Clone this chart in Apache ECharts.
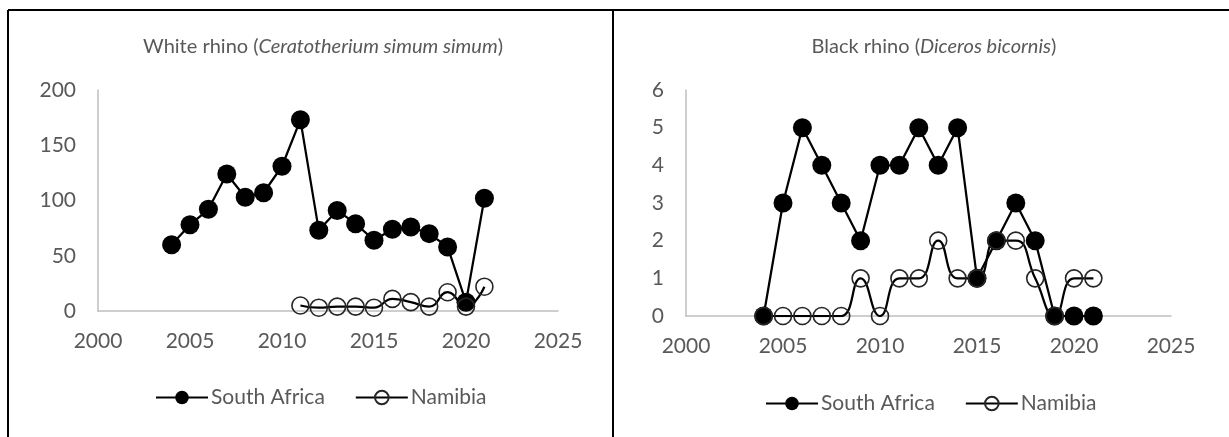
<!DOCTYPE html>
<html>
<head>
<meta charset="utf-8">
<script src="https://cdn.jsdelivr.net/npm/echarts@6/dist/echarts.min.js"></script>
<style>
html,body{margin:0;padding:0;background:#fff;}
#c{width:1229px;height:437px;}
</style>
</head>
<body>
<div id="c"></div>
<script>
// ---- Data ----
const whiteYearsSA = [2004,2005,2006,2007,2008,2009,2010,2011,2012,2013,2014,2015,2016,2017,2018,2019,2020,2021];
const whiteSA = [60,78,92,124,103,107,131,173,73,91,79,64,74,76,70,58,8,102];
const whiteYearsNA = [2011,2012,2013,2014,2015,2016,2017,2018,2019,2020,2021];
const whiteNA = [5,3,4,4,3,11,8,4,17,4,22];

const blackYears = [2004,2005,2006,2007,2008,2009,2010,2011,2012,2013,2014,2015,2016,2017,2018,2019,2020,2021];
const blackSA = [0,3,5,4,3,2,4,4,5,4,5,1,2,3,2,0,0,0];
const blackNA = [0,0,0,0,0,1,0,1,1,2,1,1,2,2,1,0,1,1];

const xTicks = [2000,2005,2010,2015,2020,2025];
const whiteTicks = [0,50,100,150,200];
const blackTicks = [0,1,2,3,4,5,6];
const seriesNames = ['South Africa','Namibia'];

function pairs(xs, ys){ return xs.map((x,i)=>[x, ys[i]]); }

const FONT = 'Lato, "Open Sans", sans-serif';
const GREY = '#595959';
const AX = '#BFBFBF';

function xAxis(gi){
  return {
    type:'value', gridIndex:gi, min:xTicks[0], max:xTicks[xTicks.length-1], interval:xTicks[1]-xTicks[0],
    axisLine:{show:true, lineStyle:{color:AX, width:1.5}},
    axisTick:{show:false}, splitLine:{show:false},
    axisLabel:{color:GREY, fontFamily:FONT, fontSize:21, margin:20, formatter:(v)=>String(v)}
  };
}
function yAxis(gi, ticks){
  return {
    type:'value', gridIndex:gi, min:ticks[0], max:ticks[ticks.length-1], interval:ticks[1]-ticks[0],
    axisLine:{show:true, lineStyle:{color:AX, width:1.5}},
    axisTick:{show:false}, splitLine:{show:false},
    axisLabel:{color:GREY, fontFamily:FONT, fontSize:21, margin:22}
  };
}
function saSeries(gi, data){
  return {
    name:seriesNames[0], type:'line', xAxisIndex:gi, yAxisIndex:gi, data:data,
    symbol:'circle', symbolSize:19,
    lineStyle:{color:'#000', width:2.25},
    itemStyle:{color:'#000', borderColor:'#000', borderWidth:0},
    emphasis:{disabled:true}, animation:false, z:2
  };
}
function naSeries(gi, data){
  return {
    name:seriesNames[1], type:'line', xAxisIndex:gi, yAxisIndex:gi, data:data,
    symbol:'circle', symbolSize:17, smooth:0.5,
    lineStyle:{color:'#000', width:2.25},
    itemStyle:{color:'rgba(255,255,255,0)', borderColor:'#262626', borderWidth:1.6},
    emphasis:{disabled:true}, animation:false, z:3
  };
}
function legend(left, top){
  return {
    data:seriesNames, left:left, top:top,
    itemWidth:52, itemHeight:17, itemGap:30,
    textStyle:{color:GREY, fontFamily:FONT, fontSize:21, padding:[0,0,0,-2]},
    selectedMode:false
  };
}
function titleStyle(){
  return {rich:{
    n:{color:GREY,fontFamily:FONT,fontSize:20,fontWeight:'normal'},
    i:{color:GREY,fontFamily:FONT,fontSize:20,fontWeight:'normal',fontStyle:'italic'}
  }};
}

const chart = echarts.init(document.getElementById('c'), null, {renderer:'canvas'});
chart.setOption({
  animation:false,
  backgroundColor:'#fff',
  title:[
    {text:'{n|White rhino (}{i|Ceratotherium simum simum}{n|)}', left:318, top:32, textAlign:'center', textStyle:titleStyle()},
    {text:'{n|Black rhino (}{i|Diceros bicornis}{n|)}', left:929, top:32, textAlign:'center', textStyle:titleStyle()}
  ],
  legend:[ legend(150, 382), legend(760, 388) ],
  grid:[
    {left:98, top:90, width:460, height:221, containLabel:false},
    {left:686, top:90, width:485, height:226, containLabel:false}
  ],
  xAxis:[xAxis(0), xAxis(1)],
  yAxis:[yAxis(0, whiteTicks), yAxis(1, blackTicks)],
  series:[
    saSeries(0, pairs(whiteYearsSA, whiteSA)),
    naSeries(0, pairs(whiteYearsNA, whiteNA)),
    saSeries(1, pairs(blackYears, blackSA)),
    naSeries(1, pairs(blackYears, blackNA))
  ],
  graphic:[
    {type:'line', shape:{x1:8, y1:10, x2:1229, y2:10}, style:{stroke:'#000', lineWidth:2}, silent:true},
    {type:'line', shape:{x1:8, y1:10, x2:8, y2:437}, style:{stroke:'#000', lineWidth:2}, silent:true},
    {type:'line', shape:{x1:613, y1:10, x2:613, y2:437}, style:{stroke:'#000', lineWidth:2}, silent:true}
  ]
});
</script>
</body>
</html>
